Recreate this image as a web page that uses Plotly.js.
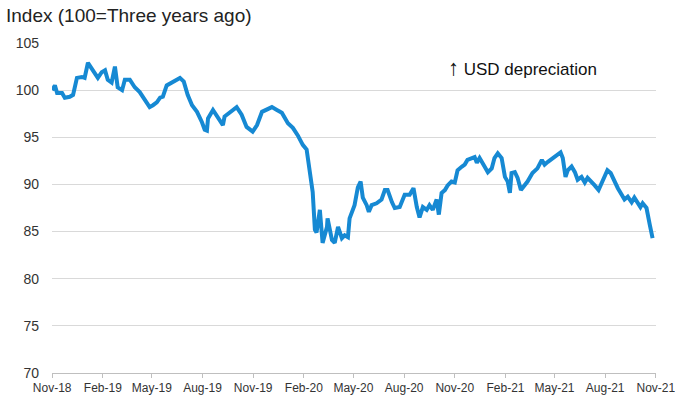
<!DOCTYPE html>
<html>
<head>
<meta charset="utf-8">
<script src="https://cdn.plot.ly/plotly-3.0.1.min.js"></script>
<style>html,body{margin:0;padding:0;background:#fff;}#chart{width:675px;height:401px;}</style>
</head>
<body>
<div id="chart"></div>
<script>
const dates = [
"2018-11-01","2018-11-06","2018-11-10","2018-11-19","2018-11-24","2018-12-03","2018-12-09","2018-12-16","2018-12-25","2018-12-30",
"2019-01-05","2019-01-12","2019-01-18","2019-01-23","2019-01-30","2019-02-05","2019-02-10","2019-02-17","2019-02-23","2019-02-28",
"2019-03-08","2019-03-13","2019-03-22","2019-03-31","2019-04-09","2019-04-15","2019-04-22","2019-04-27","2019-05-03","2019-05-10",
"2019-05-16","2019-05-21","2019-05-28","2019-06-06","2019-06-15","2019-06-21","2019-06-28","2019-07-05","2019-07-13","2019-07-22",
"2019-07-31","2019-08-05","2019-08-09","2019-08-11","2019-08-20","2019-08-29","2019-09-07","2019-09-10","2019-09-20","2019-10-02",
"2019-10-11","2019-10-20","2019-10-31","2019-11-08","2019-11-17","2019-11-26","2019-12-05","2019-12-14","2019-12-23","2020-01-03",
"2020-01-12","2020-01-21","2020-01-30","2020-02-06","2020-02-08","2020-02-12","2020-02-15","2020-02-17","2020-02-21","2020-02-24",
"2020-03-01","2020-03-04","2020-03-06","2020-03-14","2020-03-15","2020-03-23","2020-03-28","2020-04-03","2020-04-10","2020-04-15",
"2020-04-21","2020-04-24","2020-04-30","2020-05-03","2020-05-09","2020-05-14","2020-05-18","2020-05-25","2020-05-29","2020-06-03",
"2020-06-12","2020-06-21","2020-06-27","2020-07-02","2020-07-10","2020-07-15","2020-07-24","2020-08-02","2020-08-11","2020-08-18",
"2020-08-24","2020-08-29","2020-09-04","2020-09-11","2020-09-16","2020-09-22","2020-09-29","2020-10-03","2020-10-08","2020-10-14",
"2020-10-19","2020-10-26","2020-11-01","2020-11-06","2020-11-14","2020-11-19","2020-11-24","2020-12-02","2020-12-07","2020-12-11",
"2020-12-16","2020-12-25","2020-12-31","2021-01-07","2021-01-12","2021-01-18","2021-01-25","2021-01-31","2021-02-05","2021-02-09",
"2021-02-12","2021-02-18","2021-02-23","2021-03-01","2021-03-08","2021-03-13","2021-03-22","2021-03-31","2021-04-08","2021-04-13",
"2021-04-19","2021-04-28","2021-05-05","2021-05-12","2021-05-16","2021-05-21","2021-05-25","2021-06-01","2021-06-07","2021-06-12",
"2021-06-19","2021-06-25","2021-06-30","2021-07-07","2021-07-13","2021-07-20","2021-07-26","2021-07-31","2021-08-05","2021-08-11",
"2021-08-18","2021-08-24","2021-08-31","2021-09-05","2021-09-11","2021-09-18","2021-09-23","2021-09-29","2021-10-04","2021-10-08",
"2021-10-15","2021-10-21","2021-10-24","2021-10-26"
];
const indexValues = [
100.0,100.5,99.7,99.7,99.2,99.3,99.5,101.3,101.4,101.3,
102.9,102.3,101.8,101.3,101.9,102.1,101.1,100.8,102.5,100.3,
100.0,101.1,101.1,100.3,99.8,99.3,98.7,98.2,98.4,98.7,
99.2,99.3,100.5,100.8,101.1,101.3,100.9,99.5,98.4,97.7,
96.6,95.8,95.7,97.0,97.9,97.0,96.3,97.2,97.6,98.2,
97.4,96.1,95.6,96.3,97.7,97.9,98.2,97.9,97.6,96.5,
96.0,95.2,94.2,93.7,92.9,91.5,89.7,89.2,85.2,84.9,
87.3,84.9,83.8,85.5,86.4,84.1,83.8,85.5,84.3,84.6,
84.4,86.4,87.3,87.8,89.7,90.3,88.6,87.8,87.1,87.8,
88.0,88.4,89.4,89.4,88.1,87.5,87.6,88.9,88.9,89.6,
87.6,86.5,87.6,87.3,87.8,87.3,88.4,86.8,89.1,89.4,
89.9,90.3,90.2,91.5,91.9,92.1,92.6,92.8,92.9,92.3,
92.8,91.9,91.3,91.7,92.8,93.3,92.8,90.8,90.3,89.1,
91.2,91.3,90.7,89.4,89.9,90.3,91.2,91.7,92.6,92.1,
92.4,92.8,93.1,93.4,92.8,90.8,91.5,91.9,91.3,90.5,
90.8,90.2,90.7,90.3,89.9,89.4,90.2,91.0,91.5,91.2,
90.3,89.6,88.9,88.4,88.7,88.1,88.6,88.0,87.6,88.0,
87.5,85.7,84.6,84.3
];
const tickDates = ["2018-11-01","2019-02-01","2019-05-01","2019-08-01","2019-11-01","2020-02-01","2020-05-01","2020-08-01","2020-11-01","2021-02-01","2021-05-01","2021-08-01","2021-11-01"];
const tickLabels = ["Nov-18","Feb-19","May-19","Aug-19","Nov-19","Feb-20","May-20","Aug-20","Nov-20","Feb-21","May-21","Aug-21","Nov-21"];
const yTicks = [70,75,80,85,90,95,100,105];

const trace = {
  x: dates, y: indexValues, type: 'scatter', mode: 'lines',
  line: {color: '#1689D3', width: 4}, hoverinfo: 'x+y'
};
const layout = {
  width: 675, height: 401,
  margin: {l: 52, r: 19, t: 43, b: 28},
  paper_bgcolor: '#fff', plot_bgcolor: '#fff',
  showlegend: false,
  font: {family: 'Liberation Sans, Arial, sans-serif', color: '#333'},
  xaxis: {
    type: 'date', range: ['2018-10-31 18:00','2021-11-01 06:00'],
    tickmode: 'array', tickvals: tickDates, ticktext: tickLabels,
    ticklabeloverflow: 'allow',
    showgrid: false, zeroline: false,
    showline: true, linecolor: '#bfbfbf', linewidth: 1,
    ticks: 'outside', ticklen: 4, tickcolor: '#bfbfbf',
    tickfont: {family: 'Liberation Sans, Arial, sans-serif', size: 12, color: '#333'}
  },
  yaxis: {
    range: [70,105], tickmode: 'array', tickvals: yTicks,
    showgrid: true, gridcolor: '#d9d9d9', gridwidth: 1,
    zeroline: false, showline: false, ticks: '',
    ticklabelstandoff: 12,
    tickfont: {family: 'Liberation Sans, Arial, sans-serif', size: 14, color: '#333'}
  },
  annotations: [
    {text: 'Index (100=Three years ago)', xref: 'paper', yref: 'paper', x: -0.08, y: 1.0, yshift: 40,
     xanchor: 'left', yanchor: 'top', showarrow: false,
     font: {family: 'Liberation Sans, Arial, sans-serif', size: 19, color: '#222'}},
    {text: '<span style="font-size:22px">↑</span> USD depreciation', xref: 'paper', yref: 'paper', x: 0.652, y: 0.927,
     xanchor: 'left', yanchor: 'middle', showarrow: false,
     font: {family: 'Liberation Sans, Arial, sans-serif', size: 17, color: '#111'}}
  ]
};
Plotly.newPlot('chart', [trace], layout, {displayModeBar: false, staticPlot: true});
</script>
</body>
</html>
